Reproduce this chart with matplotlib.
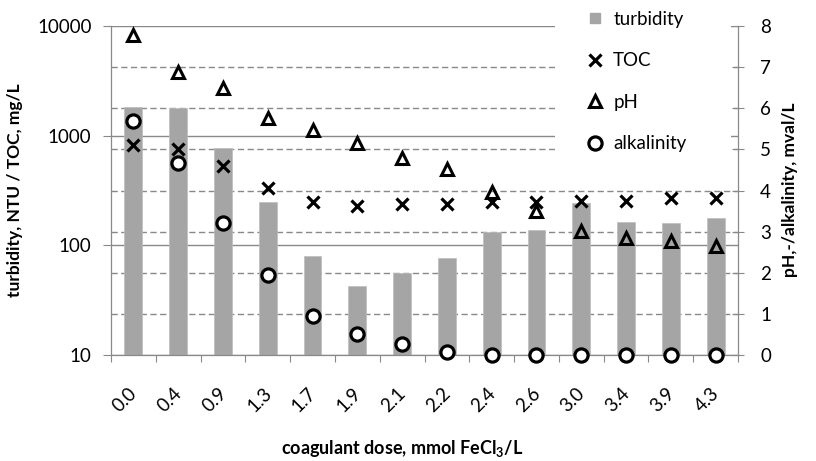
import matplotlib
matplotlib.use("Agg")
import matplotlib.pyplot as plt
import matplotlib.transforms as mtransforms
import numpy as np
from matplotlib.lines import Line2D
from matplotlib.patches import Rectangle

plt.rcParams['font.family'] = ['Lato', 'DejaVu Sans']
plt.rcParams['mathtext.fontset'] = 'custom'
plt.rcParams['mathtext.rm'] = 'Lato'
plt.rcParams['mathtext.bf'] = 'Lato:bold'

# data
dose_labels = ['0.0', '0.4', '0.9', '1.3', '1.7', '1.9', '2.1', '2.2',
               '2.4', '2.6', '3.0', '3.4', '3.9', '4.3']
turbidity = [1830, 1780, 770, 250, 80.5, 43, 56.5, 77, 131, 137, 245, 162, 159, 179]
toc = [824, 758, 530, 336, 249, 230, 239, 239, 247, 250, 256, 256, 269, 269]
ph = [7.79, 6.89, 6.49, 5.76, 5.47, 5.15, 4.79, 4.52, 3.97, 3.50, 3.02, 2.84, 2.76, 2.66]
alkalinity = [5.68, 4.68, 3.22, 1.95, 0.95, 0.50, 0.27, 0.08, 0, 0, 0, 0, 0, 0]

axis_gray = '#898989'
bar_gray = '#A5A5A5'

fig = plt.figure(figsize=(8.16, 4.61), dpi=100)
ax = fig.add_axes([111/816, 1 - 355/461, 627/816, 329/461])
axg = ax.twinx()   # bottom layer: dashed grid of the right axis
ax2 = ax.twinx()   # top layer: pH / alkalinity
axg.set_zorder(0)
ax.set_zorder(1)
ax2.set_zorder(2)
ax.patch.set_visible(False)
ax2.patch.set_visible(False)

x = np.arange(len(dose_labels))

# left axis: turbidity bars + TOC
ax.bar(x, turbidity, width=0.4, color=bar_gray, edgecolor='#BDBDBD', linewidth=0.5, zorder=2)
ax.plot(x, toc, linestyle='none', marker='x', markersize=8.5, mew=2.3, color='black', zorder=3)
ax.set_yscale('log')
ax.set_ylim(10, 10000)
ax.set_xlim(-0.5, len(x) - 0.5)
ax.yaxis.set_minor_locator(matplotlib.ticker.NullLocator())
ax.set_yticks([10, 100, 1000, 10000])
ax.set_yticklabels(['10', '100', '1000', '10000'])
ax.grid(axis='y', which='major', color=axis_gray, linewidth=1.0, linestyle='-')
ax.set_axisbelow(True)
ax.set_xticks(x)
ax.set_xticklabels(dose_labels, rotation=45, ha='right', va='top')
ax.set_xticks(np.arange(-0.5, len(x)), minor=True)
ax.tick_params(axis='x', which='major', length=0, pad=21, labelsize=13.5)
ax.tick_params(axis='x', which='minor', length=5, color=axis_gray, width=0.8, direction='out')
ax.tick_params(axis='y', length=6, color=axis_gray, width=0.8, pad=8, labelsize=13.5)
shift = mtransforms.ScaledTranslation(7 / 100, 0, fig.dpi_scale_trans)
for lab in ax.get_xticklabels():
    lab.set_transform(lab.get_transform() + shift)
for s in ['top', 'right']:
    ax.spines[s].set_visible(False)
for s in ['left', 'bottom']:
    ax.spines[s].set_color(axis_gray)
    ax.spines[s].set_linewidth(0.9)

# dashed grid (right axis units)
axg.set_ylim(0, 8)
for v in range(1, 8):
    axg.axhline(v, color=axis_gray, linewidth=1.0, linestyle=(0, (4.5, 2.5)), zorder=1)
axg.set_yticks([])
for s in axg.spines.values():
    s.set_visible(False)

# right axis: pH and alkalinity
ax2.plot(x, ph, linestyle='none', marker='^', markersize=9, mew=2.2,
         markerfacecolor='none', markeredgecolor='black', zorder=4)
ax2.plot(x, alkalinity, linestyle='none', marker='o', markersize=9.5, mew=2.3,
         markerfacecolor='white', markeredgecolor='black', zorder=4, clip_on=False)
ax2.set_ylim(0, 8)
ax2.set_yticks(range(0, 9))
ax2.tick_params(axis='y', direction='inout', length=8, color=axis_gray, width=0.8,
                pad=12, labelsize=13.5)
for s in ['top', 'left', 'bottom']:
    ax2.spines[s].set_visible(False)
ax2.spines['right'].set_color(axis_gray)
ax2.spines['right'].set_linewidth(0.9)

# white legend area
ax2.add_patch(Rectangle(((555 - 111) / 627, (355 - 170) / 329), (731 - 555) / 627, 200 / 329,
                        transform=ax2.transAxes, facecolor='white', edgecolor='none',
                        zorder=1, clip_on=False))

handles = [
    Line2D([], [], linestyle='none', marker='s', markersize=7.5, color=bar_gray),
    Line2D([], [], linestyle='none', marker='x', markersize=8.5, mew=2.3, color='black'),
    Line2D([], [], linestyle='none', marker='^', markersize=9, mew=2.2,
           markerfacecolor='none', markeredgecolor='black'),
    Line2D([], [], linestyle='none', marker='o', markersize=9.5, mew=2.3,
           markerfacecolor='white', markeredgecolor='black'),
]
leg = ax2.legend(handles, ['turbidity', 'TOC', 'pH', 'alkalinity'],
                 loc='upper left', bbox_to_anchor=(586 / 816, 1 - 11 / 461),
                 bbox_transform=fig.transFigure, frameon=False, fontsize=13.5,
                 handlelength=1.0, handletextpad=0.45, labelspacing=1.3,
                 borderpad=0, borderaxespad=0)
leg.set_zorder(10)

ax.set_ylabel('turbidity, NTU / TOC, mg/L', fontsize=12.5, fontweight='bold')
ax.yaxis.set_label_coords(-88 / 627, 0.5)
fig.text(790 / 816, 1 - 190 / 461, 'pH,-/alkalinity, mval/L', rotation=90,
         ha='center', va='center', fontsize=12.5, fontweight='bold')
fig.text(402 / 816, 1 - 448 / 461, r'coagulant dose, mmol FeCl$_\mathbf{3}$/L',
         ha='center', va='center', fontsize=13, fontweight='bold')

fig.savefig('out.png', dpi=100)
